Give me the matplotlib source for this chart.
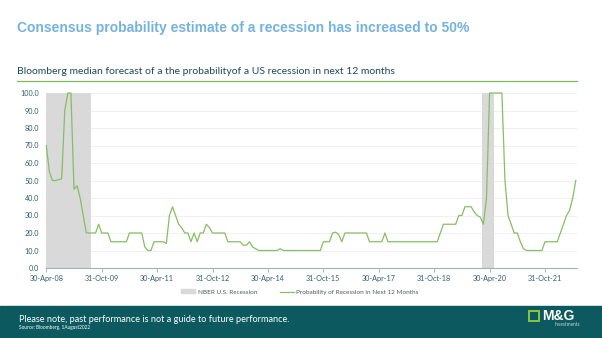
import matplotlib
matplotlib.use("Agg")
import matplotlib.pyplot as plt
from matplotlib.patches import Rectangle, Patch
from matplotlib.lines import Line2D

# monthly data, Apr-08 .. Aug-22 (index 0 = Apr-08)
prob = [70, 55, 50, 50, 50.5, 51, 90, 100, 100, 45, 47, 40, 30, 20, 20, 20, 20, 25, 20, 20,
        20, 15, 15, 15, 15, 15, 15, 20, 20, 20, 20, 20, 12, 10, 10, 15, 15, 15, 15, 14,
        30, 35, 30, 25, 23, 20, 20, 15, 20, 15, 20, 20, 25, 23, 20, 20, 20, 20, 20, 15,
        15, 15, 15, 15, 13, 13, 15, 12, 11, 10, 10, 10, 10, 10, 10, 10, 11, 10, 10, 10,
        10, 10, 10, 10, 10, 10, 10, 10, 10, 10, 15, 15, 15, 20, 20.5, 19, 15, 20, 20, 20,
        20, 20, 20, 20, 20, 15, 15, 15, 15, 15, 20, 15, 15, 15, 15, 15, 15, 15, 15, 15,
        15, 15, 15, 15, 15, 15, 15, 15, 20, 25, 25, 25, 25, 25, 30, 30, 35, 35, 35, 32,
        30, 29, 25, 40, 100, 100, 100, 100, 100, 50, 30, 25, 20, 20, 15, 11, 10, 10, 10, 10,
        10, 10, 15, 15, 15, 15, 15, 20, 25, 30, 33, 40, 50]
months = list(range(len(prob)))
recession = [100 if (m <= 14 or 142 <= m <= 145) else 0 for m in months]

tick_pos = [0, 18, 36, 54, 72, 90, 108, 126, 144, 162]
tick_labels = ['30-Apr-08', '31-Oct-09', '30-Apr-11', '31-Oct-12', '30-Apr-14',
               '31-Oct-15', '30-Apr-17', '31-Oct-18', '30-Apr-20', '31-Oct-21']

teal = '#2E5F68'
green = '#86BE63'

fig = plt.figure(figsize=(6.02, 3.38), dpi=100)
W, H = 602, 338

fig.text(17 / W, 1 - 28 / H, 'Consensus probability estimate of a recession has increased to 50%',
         family='Liberation Sans', weight='bold', fontsize=10.0, color='#74B2DF', va='center')
fig.text(17 / W, 1 - 72 / H, 'Bloomberg median forecast of a the probabilityof a US recession in next 12 months',
         family='Lato', fontsize=7.5, color='#1D4B52', va='center')
fig.add_artist(Line2D([17 / W, 577 / W], [1 - 81 / H, 1 - 81 / H], color='#7DB956', lw=0.9))

ax = fig.add_axes([46.3 / W, 1 - 268 / H, (577 - 46.3) / W, (268 - 93) / H])
ax.bar(months, recession, width=1.0, color='#D9D9D9', label='NBER U.S. Recession', zorder=1)
ax.plot(months, prob, color=green, lw=0.9, label='Probability of Recession in Next 12 Months',
        zorder=3, clip_on=False)

ax.set_xlim(0, 172.4)
ax.set_ylim(0, 100)
ax.set_yticks(range(0, 101, 10))
ax.set_yticklabels(['%.1f' % v for v in range(0, 101, 10)])
ax.set_xticks(tick_pos)
ax.set_xticklabels(tick_labels)
ax.grid(axis='y', color='#EEEEEE', lw=0.6, zorder=0)
ax.set_axisbelow(True)
for s in ['top', 'right', 'left']:
    ax.spines[s].set_visible(False)
ax.spines['bottom'].set_color('#9DB2B6')
ax.spines['bottom'].set_linewidth(0.8)
ax.tick_params(axis='y', length=0, pad=5, labelsize=5.2, labelcolor=teal)
ax.tick_params(axis='x', length=3, width=0.6, color='#9DB2B6', pad=2, labelsize=5.2, labelcolor=teal)
for lab in ax.get_xticklabels() + ax.get_yticklabels():
    lab.set_family('Lato')

h = [Patch(color='#D9D9D9'), Line2D([], [], color=green, lw=0.9)]
leg = fig.legend(h, ['NBER U.S. Recession', 'Probability of Recession in Next 12 Months'],
                 loc='center', bbox_to_anchor=(300 / W, 1 - 292 / H), ncol=2, frameon=False,
                 prop={'family': 'Lato', 'size': 4.6}, handlelength=2.2, handleheight=0.6,
                 columnspacing=3.5, handletextpad=0.4)
for t in leg.get_texts():
    t.set_color('#4A5C60')

# footer band
fig.add_artist(Rectangle((0, 0), 1, 32 / H, transform=fig.transFigure, color='#0C5A5F', zorder=0))
fig.text(19 / W, 1 - 319 / H, 'Please note, past performance is not a guide to future performance.',
         family='Lato', fontsize=6.6, color='white', va='center')
fig.text(19 / W, 1 - 327.5 / H, 'Source: Bloomberg, 1August2022',
         family='Lato', fontsize=3.4, color='white', va='center')
fig.add_artist(Rectangle((529 / W, 1 - 321 / H), 10 / W, 10 / H, transform=fig.transFigure,
                         fill=False, edgecolor='#8CC63F', lw=1.4))
fig.text(542 / W, 1 - 316 / H, 'M&G', family='Liberation Sans', weight='bold', fontsize=10,
         color='white', va='center')
fig.text(580 / W, 1 - 325 / H, 'Investments', family='Lato', fontsize=3.4,
         color='#C8D8DA', va='center', ha='right')

fig.savefig('out.png', dpi=100)
